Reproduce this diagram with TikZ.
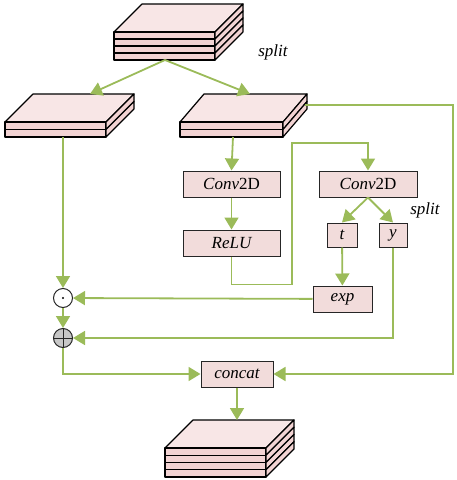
\documentclass[tikz,border=0pt]{standalone}
\usepackage{fontspec}
\setmainfont{Liberation Serif}
\usetikzlibrary{arrows.meta}
\definecolor{lnk}{HTML}{9BBB59}
\definecolor{topc}{HTML}{F8E6E6}
\definecolor{layc}{HTML}{F2D3D3}
\definecolor{boxc}{HTML}{F2DCDB}
\newcommand{\layerstack}[7]{% x y w n h dx dy
  \fill[topc,draw=black,line width=1.2pt,line join=round] (#1,#2) -- ++(#6,-#7) -- ++(#3,0) -- (#1+#3,#2) -- cycle;
  \foreach \i in {1,...,#4}{%
    \draw[fill=layc,line width=1.2pt,line join=round] (#1,#2+\i*#5-#5) rectangle (#1+#3,#2+\i*#5);
    \draw[fill=layc,line width=1.2pt,line join=round] (#1+#3,#2+\i*#5-#5) -- ++(#6,-#7) -- ++(0,#5) -- (#1+#3,#2+\i*#5) -- cycle;
  }%
}
\begin{document}
\begin{tikzpicture}[x=1pt,y=-1pt,
  font=\fontsize{17}{20}\selectfont\itshape,
  link/.style={draw=lnk,line width=1.8pt,-{Triangle[length=12pt,width=14pt]}},
  opbox/.style={draw=black!85,line width=1pt,fill=boxc,inner sep=0pt}]
\useasboundingbox (0,0) rectangle (457,480);
% stacks
\layerstack{114}{32}{101}{4}{7}{28}{28}
\layerstack{5}{122}{101}{2}{7.5}{28}{28}
\layerstack{180}{122}{103}{2}{7.5}{24}{28}
\layerstack{165}{448}{101}{4}{7.25}{28}{28}
\coordinate (S0bot) at (165,60);
\coordinate (SLtop) at (90,94);
\coordinate (SLbot) at (63,137);
\coordinate (SRtop) at (250,94);
\coordinate (SRbot) at (233,137);
\coordinate (SRside) at (305,105);
\coordinate (SBtop) at (237,420);
% boxes
\node[opbox,minimum width=97pt,minimum height=26pt] (conv1) at (231.5,184) {Conv\upshape 2D};
\node[opbox,minimum width=97pt,minimum height=26pt] (relu) at (231.5,243) {ReLU};
\node[opbox,minimum width=98pt,minimum height=26pt] (conv2) at (368,184) {Conv\upshape 2D};
\node[opbox,minimum width=30pt,minimum height=24pt] (t) at (342,235) {t};
\node[opbox,minimum width=28pt,minimum height=24pt] (y) at (393,235) {y};
\node[opbox,minimum width=59pt,minimum height=26pt] (exp) at (342.5,299) {exp};
\node[opbox,minimum width=72pt,minimum height=26pt] (concat) at (237,374) {concat};
\node[circle,draw=black!85,line width=1pt,minimum size=19pt,inner sep=0pt] (dot) at (63,298) {};
\fill (dot.center) circle (1.1pt);
\node[circle,draw=black!85,fill=black!22,line width=1pt,minimum size=19pt,inner sep=0pt] (plus) at (63,338) {};
\draw[black!85,line width=1pt] (plus.north) -- (plus.south) (plus.west) -- (plus.east);
% labels
\node (split1) at (273,52) {split};
\node (split2) at (425,210) {split};
% connectors
\draw[link] (S0bot) -- (SLtop);
\draw[link] (S0bot) -- (SRtop);
\draw[link] (SLbot) -- (dot.north);
\draw[link] (SRbot) -- (conv1.north);
\draw[link] (conv1) -- (relu);
\draw[link] (relu.south) -- ++(0,28) -| (292,143) -| (conv2.north);
\draw[link] (conv2.south) -- (t.north);
\draw[link] (conv2.south) -- (y.north);
\draw[link] (t) -- (exp);
\draw[link] (exp) -- (dot);
\draw[link] (y.south) |- (plus.east);
\draw[link] (dot) -- (plus);
\draw[link] (plus.south) |- (concat.west);
\draw[link] (SRside) -- (453,105) |- (concat.east);
\draw[link] (concat) -- (SBtop);
\end{tikzpicture}
\end{document}
